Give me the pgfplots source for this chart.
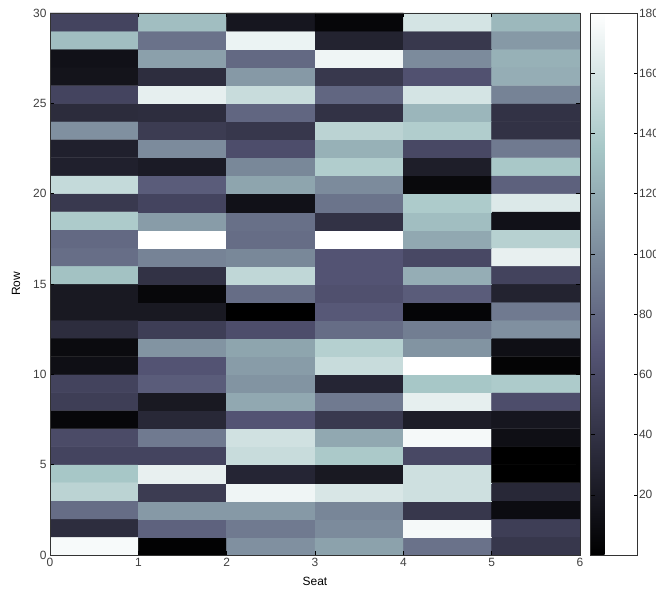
\documentclass[border=0pt]{standalone}
\usepackage{fontspec}
\setmainfont{Liberation Sans}
\usepackage{pgfplots}
\pgfplotsset{compat=1.18}

% values per cell, x = seat centre, y = row centre (bottom row first)
\pgfplotstableread{
x y c
0.5 0.5 176
1.5 0.5 2
2.5 0.5 103
3.5 0.5 113
4.5 0.5 85
5.5 0.5 44
0.5 1.5 36
1.5 1.5 76
2.5 1.5 90
3.5 1.5 100
4.5 1.5 175
5.5 1.5 50
0.5 2.5 82
1.5 2.5 108
2.5 2.5 108
3.5 2.5 97
4.5 2.5 44
5.5 2.5 10
0.5 3.5 145
1.5 3.5 48
2.5 3.5 172
3.5 3.5 160
4.5 3.5 155
5.5 3.5 32
0.5 4.5 135
1.5 4.5 168
2.5 4.5 30
3.5 4.5 20
4.5 4.5 155
5.5 4.5 0
0.5 5.5 55
1.5 5.5 55
2.5 5.5 152
3.5 5.5 137
4.5 5.5 58
5.5 5.5 0
0.5 6.5 60
1.5 6.5 90
2.5 6.5 156
3.5 6.5 117
4.5 6.5 175
5.5 6.5 12
0.5 7.5 6
1.5 7.5 32
2.5 7.5 67
3.5 7.5 46
4.5 7.5 23
5.5 7.5 18
0.5 8.5 50
1.5 8.5 20
2.5 8.5 117
3.5 8.5 90
4.5 8.5 167
5.5 8.5 62
0.5 9.5 54
1.5 9.5 72
2.5 9.5 105
3.5 9.5 30
4.5 9.5 135
5.5 9.5 138
0.5 10.5 12
1.5 10.5 67
2.5 10.5 110
3.5 10.5 152
4.5 10.5 180
5.5 10.5 3
0.5 11.5 9
1.5 11.5 105
2.5 11.5 115
3.5 11.5 142
4.5 11.5 105
5.5 11.5 12
0.5 12.5 36
1.5 12.5 50
2.5 12.5 62
3.5 12.5 82
4.5 12.5 92
5.5 12.5 103
0.5 13.5 20
1.5 13.5 20
2.5 13.5 0
3.5 13.5 70
4.5 13.5 4
5.5 13.5 90
0.5 14.5 20
1.5 14.5 6
2.5 14.5 82
3.5 14.5 64
4.5 14.5 72
5.5 14.5 28
0.5 15.5 132
1.5 15.5 40
2.5 15.5 148
3.5 15.5 67
4.5 15.5 120
5.5 15.5 54
0.5 16.5 83
1.5 16.5 95
2.5 16.5 98
3.5 16.5 67
4.5 16.5 58
5.5 16.5 168
0.5 17.5 80
1.5 17.5 180
2.5 17.5 82
3.5 17.5 180
4.5 17.5 117
5.5 17.5 143
0.5 18.5 138
1.5 18.5 110
2.5 18.5 84
3.5 18.5 40
4.5 18.5 130
5.5 18.5 14
0.5 19.5 46
1.5 19.5 55
2.5 19.5 14
3.5 19.5 86
4.5 19.5 138
5.5 19.5 162
0.5 20.5 150
1.5 20.5 72
2.5 20.5 115
3.5 20.5 100
4.5 20.5 7
5.5 20.5 75
0.5 21.5 26
1.5 21.5 22
2.5 21.5 98
3.5 21.5 140
4.5 21.5 24
5.5 21.5 136
0.5 22.5 26
1.5 22.5 100
2.5 22.5 62
3.5 22.5 122
4.5 22.5 58
5.5 22.5 90
0.5 23.5 103
1.5 23.5 48
2.5 23.5 44
3.5 23.5 145
4.5 23.5 140
5.5 23.5 40
0.5 24.5 35
1.5 24.5 36
2.5 24.5 78
3.5 24.5 40
4.5 24.5 125
5.5 24.5 40
0.5 25.5 55
1.5 25.5 167
2.5 25.5 152
3.5 25.5 78
4.5 25.5 158
5.5 25.5 95
0.5 26.5 16
1.5 26.5 36
2.5 26.5 108
3.5 26.5 45
4.5 26.5 65
5.5 26.5 120
0.5 27.5 14
1.5 27.5 112
2.5 27.5 80
3.5 27.5 172
4.5 27.5 100
5.5 27.5 122
0.5 28.5 130
1.5 28.5 85
2.5 28.5 170
3.5 28.5 28
4.5 28.5 45
5.5 28.5 108
0.5 29.5 55
1.5 29.5 130
2.5 29.5 18
3.5 29.5 5
4.5 29.5 158
5.5 29.5 126
}\seats

\begin{document}
\begin{tikzpicture}
\begin{axis}[
    name=ax,
    scale only axis,
    width=530bp,
    height=542bp,
    xmin=0, xmax=6,
    ymin=0, ymax=30,
    xtick={0,1,...,6},
    ytick={0,5,...,30},
    tick align=inside,
    axis on top,
    major tick length=4bp,
    tick style={black, line width=0.4pt},
    axis line style={black!80, line width=0.5pt},
    font=\fontsize{12}{14}\selectfont,
    tick label style={text=black!75},
    label style={text=black!75},
    /pgf/number format/assume math mode=true,
    xlabel={Seat},
    ylabel={Row},
    every axis x label/.style={at={(axis description cs:0.5,-0.048)}, anchor=center},
    every axis y label/.style={at={(axis description cs:-0.064,0.5)}, rotate=90, anchor=center},
    colormap={bone}{rgb255(0)=(0,0,0) rgb255(3)=(84,84,116) rgb255(6)=(167,199,199) rgb255(8)=(255,255,255)},
    point meta min=0,
    point meta max=180,
    colorbar,
    colorbar style={
        at={(parent axis.north east)},
        anchor=north west,
        xshift=2bp,
        width=47bp,
        ytick={20,40,...,180},
        tick align=inside,
        ytick pos=both,
        yticklabel pos=right,
        major tick length=4bp,
        axis line style={black!80, line width=0.5pt},
        font=\fontsize{12}{14}\selectfont,
        yticklabel style={text=black!75, xshift=-2bp},
        /pgf/number format/assume math mode=true,
    },
]
\addplot[matrix plot*, mesh/cols=6, point meta=explicit] table[x=x, y=y, meta=c] {\seats};
\end{axis}
\pgfresetboundingbox
\path ([xshift=-50bp, yshift=-35bp]ax.south west) rectangle ++(656bp,590bp);
\end{tikzpicture}
\end{document}
